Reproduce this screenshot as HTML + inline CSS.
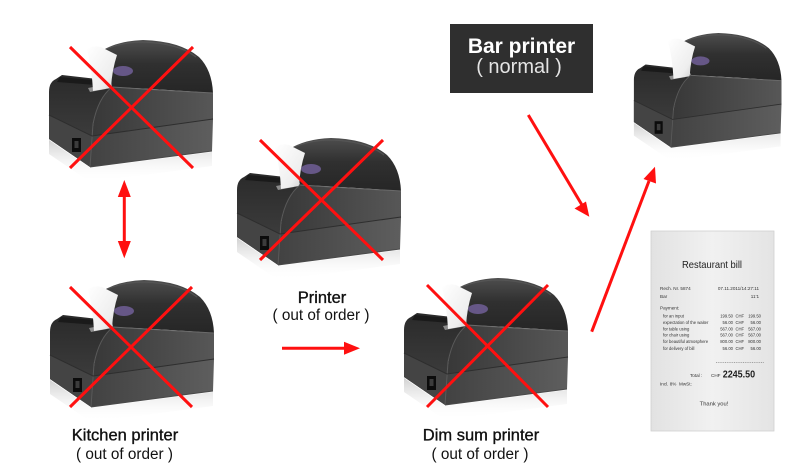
<!DOCTYPE html>
<html><head><meta charset="utf-8">
<style>
html,body{margin:0;padding:0;background:#fff;width:800px;height:472px;overflow:hidden;}
svg{display:block;}
.t{font-family:"Liberation Sans",Arial,sans-serif;}
</style></head>
<body>
<svg width="800" height="472" viewBox="0 0 800 472" xmlns="http://www.w3.org/2000/svg">
<defs>
 <linearGradient id="side" x1="0" y1="0" x2="1" y2="0">
  <stop offset="0" stop-color="#383838"/><stop offset="1" stop-color="#575757"/>
 </linearGradient>
 <linearGradient id="lower" x1="0" y1="0" x2="1" y2="0">
  <stop offset="0" stop-color="#424242"/><stop offset="1" stop-color="#5e5e5e"/>
 </linearGradient>
 <linearGradient id="dome" x1="0" y1="0" x2="0" y2="1">
  <stop offset="0" stop-color="#4e4e4e"/><stop offset="0.45" stop-color="#303030"/><stop offset="1" stop-color="#262626"/>
 </linearGradient>
 <linearGradient id="front" x1="0" y1="0" x2="0" y2="1">
  <stop offset="0" stop-color="#2a2a2a"/><stop offset="1" stop-color="#444444"/>
 </linearGradient>
 <linearGradient id="paper" x1="0" y1="0" x2="1" y2="1">
  <stop offset="0" stop-color="#ffffff"/><stop offset="0.7" stop-color="#eeeeee"/><stop offset="1" stop-color="#c8c8c8"/>
 </linearGradient>
 <linearGradient id="refl" x1="0" y1="0" x2="0" y2="1">
  <stop offset="0" stop-color="#8a8a8a" stop-opacity="0.4"/><stop offset="1" stop-color="#ffffff" stop-opacity="0"/>
 </linearGradient>
 <linearGradient id="bill" x1="0" y1="0" x2="1" y2="0">
  <stop offset="0" stop-color="#e2e2e2"/><stop offset="0.5" stop-color="#f1f1f1"/><stop offset="1" stop-color="#e4e4e4"/>
 </linearGradient>
 <g id="pr">
  <path d="M1,100 L42,128 L164,112 L164,126 L42,142 L1,114 Z" fill="url(#refl)"/>
  <!-- front face -->
  <path d="M1,52 Q1,42 8,39 L14,35 L58,40 L64,47 Q50,58 45,84 L42,127 L1,99 Z" fill="url(#front)"/>
  <path d="M1,75 L44,96 L42,127 L1,99 Z" fill="#444444"/>
  <path d="M12,37 L56,41 L61,46 L9,42 Z" fill="#1a1a1a"/>
  <path d="M40,48 L56,45 L58,49 L42,52 Z" fill="#8c8c8c"/>
  <!-- side -->
  <path d="M64,47 Q110,50 165,53 L165,79 L44,96 Q46,62 64,47 Z" fill="url(#side)"/>
  <path d="M44,96 L165,79 L164,111 L42,127 Z" fill="url(#lower)"/>
  <!-- dome -->
  <path d="M52,12 Q68,1 95,0 Q132,1 151,17 Q164,30 165,53 Q110,49 64,47 Q60,28 52,12 Z" fill="url(#dome)"/>
  <path d="M58,9 Q75,2 95,2 Q130,3 148,17" stroke="#5a5a5a" stroke-width="1.2" fill="none" opacity="0.7"/>
  <ellipse cx="75" cy="31" rx="10" ry="5" fill="#7a66a6" opacity="0.75"/>
  <!-- paper -->
  <path d="M39,9 Q45,5 53,7 L69,15 Q64,30 63,48 L45,51 Q44,30 39,9 Z" fill="url(#paper)"/>
  <!-- lines -->
  <path d="M64,47 Q110,50 165,53" stroke="#6a6a6a" stroke-width="1" fill="none"/>
  <path d="M64,47 Q50,58 45,84 L42,127" stroke="#595959" stroke-width="1" fill="none"/>
  <path d="M1,75 L44,96 L165,79" stroke="#2e2e2e" stroke-width="1" fill="none"/>
  <path d="M42,127 L164,111" stroke="#4a4a4a" stroke-width="1" fill="none"/>
  <rect x="24" y="98" width="9" height="14" fill="#0c0c0c"/>
  <rect x="26.5" y="101" width="4" height="7" fill="#3c3c3c"/>
 </g>
</defs>

<!-- printers -->
<use href="#pr" transform="translate(48,40)"/>
<use href="#pr" transform="translate(236,138)"/>
<use href="#pr" transform="translate(49,280)"/>
<use href="#pr" transform="translate(403,278)"/>
<use href="#pr" transform="translate(633,33) scale(0.9)"/>

<!-- red X marks -->
<g stroke="#ff1010" stroke-width="3" stroke-linecap="butt">
 <line x1="70" y1="47" x2="193" y2="168"/><line x1="193" y1="47" x2="70" y2="168"/>
 <line x1="260" y1="140" x2="383" y2="260"/><line x1="383" y1="140" x2="260" y2="260"/>
 <line x1="70" y1="287" x2="192" y2="407"/><line x1="192" y1="287" x2="70" y2="407"/>
 <line x1="427" y1="285" x2="548" y2="407"/><line x1="548" y1="285" x2="427" y2="407"/>
</g>

<!-- arrows -->
<g stroke="#ff1010" stroke-width="3" fill="none">
 <line x1="124.3" y1="194" x2="124.3" y2="244"/>
 <line x1="282" y1="348.3" x2="346" y2="348.3"/>
 <line x1="528.3" y1="115" x2="582" y2="205"/>
 <line x1="591.7" y1="331.7" x2="649" y2="181"/>
</g>
<g fill="#ff1010">
 <polygon points="124.3,180 117.8,197 130.8,197"/>
 <polygon points="124.3,258.3 117.8,241 130.8,241"/>
 <polygon points="360,348.3 344,341.8 344,354.8"/>
 <polygon points="589.3,216.7 574.5,208.5 586,201.5"/>
 <polygon points="655,166.7 643.5,179 656,183.5"/>
</g>

<!-- Bar printer label -->
<rect x="450" y="24" width="143" height="69" fill="#2f2f2f"/>
<text class="t" x="521.5" y="53" text-anchor="middle" font-size="21" font-weight="bold" fill="#ffffff">Bar printer</text>
<text class="t" x="519" y="73" text-anchor="middle" font-size="20" fill="#e4e4e4">( normal )</text>

<!-- labels -->
<g class="t" fill="#111" text-anchor="middle">
 <text x="322" y="303" font-size="16.5" stroke="#111" stroke-width="0.35">Printer</text>
 <text x="321" y="320" font-size="15.3">( out of order )</text>
 <text x="125" y="440.5" font-size="16.5" stroke="#111" stroke-width="0.35">Kitchen printer</text>
 <text x="124.5" y="459" font-size="15.3">( out of order )</text>
 <text x="481" y="440.5" font-size="16.5" stroke="#111" stroke-width="0.35">Dim sum printer</text>
 <text x="480" y="459" font-size="15.3">( out of order )</text>
</g>

<!-- receipt -->
<rect x="651" y="231" width="123" height="200" fill="url(#bill)" stroke="#d0d0d0" stroke-width="0.8"/>
<g class="t" fill="#333">
 <text x="682" y="268" font-size="10.5" textLength="60" lengthAdjust="spacingAndGlyphs" fill="#1e1e1e">Restaurant bill</text>
 <g font-size="4.6">
  <text x="660" y="290">Rech. Nr. 5874</text>
  <text x="759" y="290" text-anchor="end">07.11.2011/14:27:11</text>
  <text x="660" y="298">Bar</text>
  <text x="759" y="298" text-anchor="end">11'1</text>
  <text x="660" y="309.5">Payment:</text>
  <text x="690" y="377">Total :</text>
  <text x="711" y="377">CHF</text>
  <text x="660" y="385.5">Incl. 8%</text>
  <text x="679" y="385.5">MwSt:</text>
 </g>
 <g font-size="4.2">
  <text x="663" y="317.5">for an input</text>
  <text x="663" y="324">expectation of the waiter</text>
  <text x="663" y="330.3">for table using</text>
  <text x="663" y="336.6">for chair using</text>
  <text x="663" y="343.2">for beautiful atmosphere</text>
  <text x="663" y="349.8">for delivery of bill</text>
  <g text-anchor="end">
   <text x="733" y="317.5">199.50</text><text x="761" y="317.5">199.50</text>
   <text x="733" y="324">56.00</text><text x="761" y="324">56.00</text>
   <text x="733" y="330.3">567.00</text><text x="761" y="330.3">567.00</text>
   <text x="733" y="336.6">567.00</text><text x="761" y="336.6">567.00</text>
   <text x="733" y="343.2">800.00</text><text x="761" y="343.2">800.00</text>
   <text x="733" y="349.8">56.00</text><text x="761" y="349.8">56.00</text>
  </g>
  <text x="735.5" y="317.5">CHF</text>
  <text x="735.5" y="324">CHF</text>
  <text x="735.5" y="330.3">CHF</text>
  <text x="735.5" y="336.6">CHF</text>
  <text x="735.5" y="343.2">CHF</text>
  <text x="735.5" y="349.8">CHF</text>
 </g>
 <line x1="716" y1="362.7" x2="764" y2="362.7" stroke="#777" stroke-width="0.6" stroke-dasharray="1 0.8"/>
 <text x="722.7" y="377.5" font-size="10" font-weight="bold" textLength="32.5" lengthAdjust="spacingAndGlyphs" fill="#1e1e1e">2245.50</text>
 <text x="714" y="405.5" font-size="5.8" text-anchor="middle">Thank you!</text>
</g>
</svg>
</body></html>
